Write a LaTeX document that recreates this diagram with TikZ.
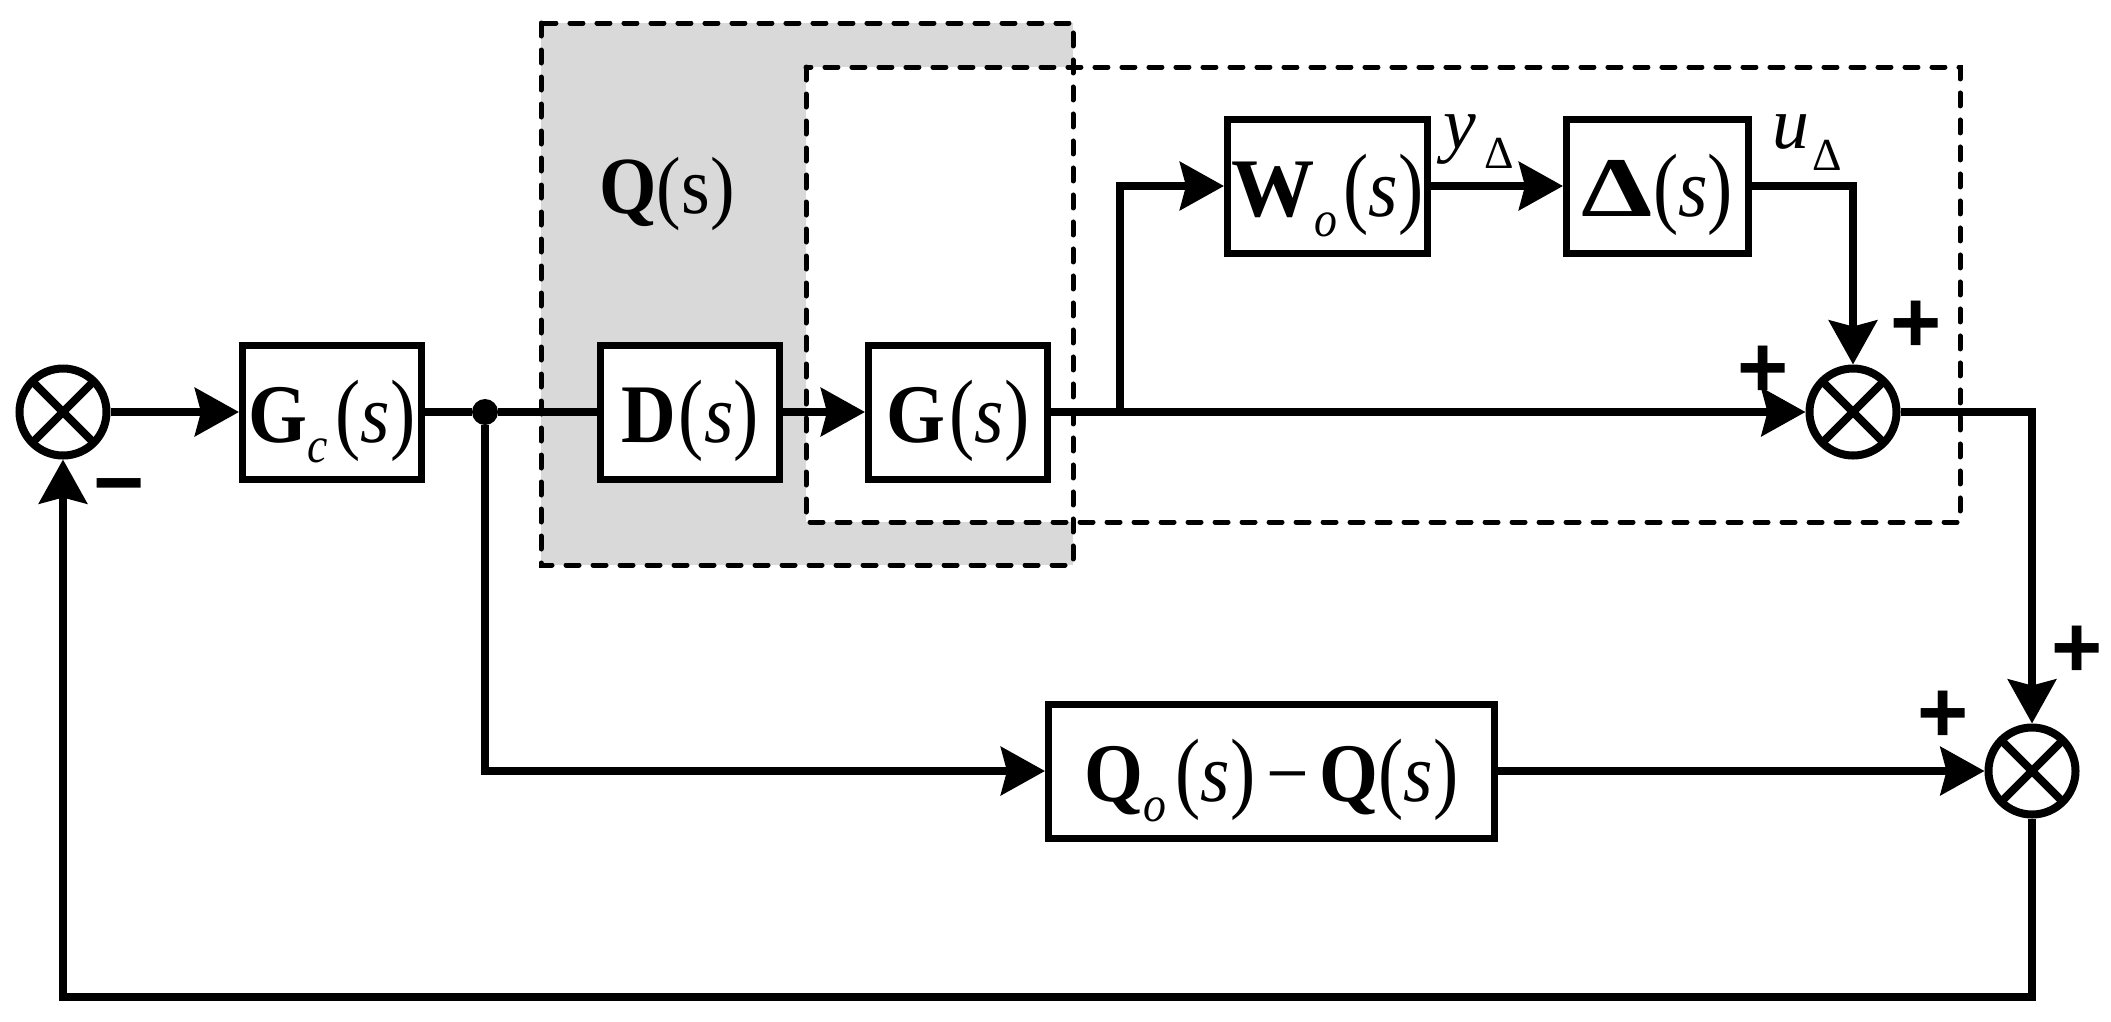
\documentclass[tikz,border=0pt]{standalone}
\usepackage{fontspec}
\setmainfont{Liberation Serif}
\newfontfamily\signfont{Liberation Sans}
\usepackage{graphicx}
\usetikzlibrary{arrows.meta}
\definecolor{graybg}{RGB}{217,217,217}
\newcommand{\LP}{\scalebox{1}[1.08]{(}}
\newcommand{\RP}{\scalebox{1}[1.08]{)}}
\newcommand{\SubT}[1]{\raisebox{-0.24em}{\fontsize{23}{23}\selectfont\itshape #1}}
\newcommand{\BL}[2][15bp]{\smash{\raisebox{-#1}{\scalebox{1}[1.1]{#2}}}}
\begin{document}
\begin{tikzpicture}[x=0.5bp, y=-0.5bp,
  blk/.style={draw, line width=3.5bp, fill=white, minimum height=67bp, inner sep=0pt, font=\fontsize{38}{42}\selectfont},
  sumj/.style={circle, draw, line width=4bp, minimum size=43.5bp, inner sep=0pt, fill=white,
    path picture={\draw[line width=4bp] (path picture bounding box.north west) -- (path picture bounding box.south east)
      (path picture bounding box.north east) -- (path picture bounding box.south west);}},
  ln/.style={line width=4bp},
  arr/.style={line width=4bp, -{Stealth[length=22bp,width=24bp,inset=3bp]}},
  dbox/.style={line width=2.5bp, dash pattern=on 6.5bp off 7bp, line cap=round},
  sgn/.style={inner sep=0pt, font=\signfont\bfseries\fontsize{44}{44}\selectfont},
  lbl/.style={inner sep=0pt, font=\fontsize{37}{40}\selectfont}
]
\useasboundingbox (0,0) rectangle (2111,1021);
% grouping frames
\fill[graybg] (541,23) rectangle (1073,565);
\fill[white] (806,67) rectangle (1960,522);
\draw[dbox] (541,23) rectangle (1073,565);
\draw[dbox] (806,67) rectangle (1960,522);

% nodes
\node[sumj] (s1) at (63,412) {};
\node[blk, minimum width=89.5bp] (gc) at (332,412) {\BL{\textbf{G}\SubT{c}\hspace{0.1em}\LP\textit{s}\RP}};
\node[circle, fill, minimum size=13bp, inner sep=0pt] (dot) at (485,412) {};
\node[blk, minimum width=89.5bp] (D) at (690,412) {\BL{\textbf{D}\hspace{0.04em}\LP\textit{s}\RP}};
\node[blk, minimum width=89.5bp] (G) at (958,412) {\BL{\textbf{G}\hspace{0.06em}\LP\textit{s}\RP}};
\node[blk, minimum width=100bp] (wo) at (1327.5,186) {\BL{\scalebox{1.1}[1]{\textbf{W}}\SubT{o}\hspace{0.08em}\LP\textit{s}\RP}};
\node[blk, minimum width=91bp] (del) at (1657.5,186) {\BL{\scalebox{1.5}[1.02]{\textbf{Δ}}\LP\textit{s}\RP}};
\node[sumj] (s2) at (1853,412) {};
\node[sumj] (s3) at (2032,771) {};
\node[blk, minimum width=223bp] (qo) at (1271.5,771) {\BL{\textbf{Q}\SubT{o}\hspace{0.12em}\LP\textit{s}\RP\hspace{0.14em}−\hspace{0.14em}\textbf{Q}\LP\textit{s}\RP}};
\node[lbl] (qlab) at (667,192) {\BL[10.5bp]{\textbf{Q}(s)}};
\node[lbl, anchor=base west] (ylab) at (1443,148) {\textit{y}\hspace{4bp}\raisebox{-10bp}{\fontsize{23}{23}\selectfont Δ}};
\node[lbl, anchor=base west] (ulab) at (1772,148) {\textit{u}\hspace{1.5bp}\raisebox{-11bp}{\fontsize{23}{23}\selectfont Δ}};

% signs
\node[sgn] (m1) at (119,484) {\smash{\raisebox{-0.33em}{−}}};
\node[sgn] (p1) at (1916,322) {\smash{\raisebox{-0.35em}{+}}};
\node[sgn] (p2) at (1763,367) {\smash{\raisebox{-0.35em}{+}}};
\node[sgn] (p3) at (2077,647) {\smash{\raisebox{-0.35em}{+}}};
\node[sgn] (p4) at (1943,712) {\smash{\raisebox{-0.35em}{+}}};

% helper points
\coordinate (br) at (1120,412);
\coordinate (c1) at (2032,997);
\coordinate (c2) at (63,997);

% connectors
\draw[arr] (s1) -- (gc);
\draw[ln] (gc) -- (dot);
\draw[ln] (dot) -- (D);
\draw[arr] (D) -- (G);
\draw[arr] (G) -- (s2);
\draw[arr] (br) |- (wo);
\draw[arr] (wo) -- (del);
\draw[arr] (del) -| (s2);
\draw[arr] (s2) -| (s3);
\draw[arr] (dot) |- (qo);
\draw[arr] (qo) -- (s3);
\draw[arr] (s3) -- (c1) -- (c2) -- (s1);
\end{tikzpicture}
\end{document}
